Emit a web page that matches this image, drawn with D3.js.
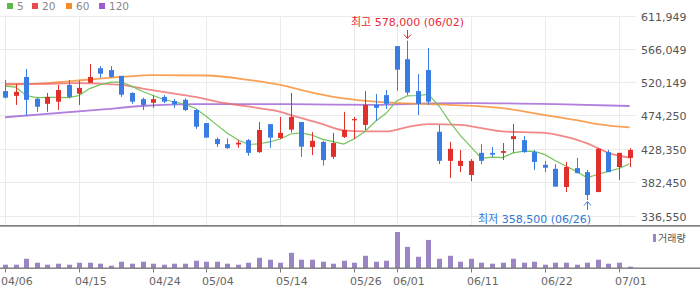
<!DOCTYPE html>
<html>
<head>
<meta charset="utf-8">
<script src="https://cdn.jsdelivr.net/npm/d3@7"></script>
<style>
body{margin:0;background:#fff}
svg{display:block;font-family:"DejaVu Sans","Noto Sans CJK KR",sans-serif}
</style>
</head>
<body>
<svg id="svg" width="700" height="289"></svg>
<script>
// daily candles, 60 trading days (prices in won)
var opens  = [508500,502000,528000,498000,491000,494000,517000,505000,520000,540000,537500,529500,506000,497500,492500,500500,495000,496500,482500,464500,442500,435500,435000,441000,424500,463000,444000,455500,466000,431500,438500,418000,445500,468500,462000,489500,503000,570500,552500,508500,537500,452500,412500,405500,393000,423500,423500,423500,442500,441000,424500,407000,401500,376500,402500,397000,369500,424500,404000,416500];
var highs  = [524000,518000,539000,499500,506000,517000,524000,523000,546000,543000,543000,529500,507000,499500,503000,503000,498000,498500,483500,464500,444500,443500,441000,442500,466000,463000,473000,506000,466000,452000,440000,451000,480000,473000,508500,504500,510000,570500,578000,532000,568000,462000,438500,427500,415000,435500,431500,437000,463500,446500,427500,412500,408000,411000,416500,400000,430000,427500,423500,430000];
var lows   = [498500,489500,474500,480000,480000,482500,498500,489500,520000,527000,527000,500500,491000,482500,485500,492000,485500,481000,456500,444500,431500,429000,430500,419500,423500,430500,442500,451500,418000,420500,406000,415000,444000,442500,455000,467500,484000,509000,503000,475500,489500,408000,389000,397000,384500,408000,418000,413500,423500,423500,400000,397000,377000,369500,395500,358500,369500,397000,386000,404000];
var closes = [499500,507500,496500,487000,500500,510000,500500,513000,528000,532500,528000,503500,494000,489500,497500,494000,490500,482500,459500,444500,435500,430000,437500,423500,455000,444500,451000,473000,432000,440000,413500,437000,455000,470000,489500,485500,491000,538000,506500,491000,494000,412500,429000,412500,412500,412500,421000,426000,446500,424500,411000,403000,377000,404000,395500,365500,429000,397000,423500,427500];
// volume, thousand shares
var volumes = [50,50,140,80,50,65,50,80,80,65,35,95,65,95,65,50,65,65,110,95,95,65,50,80,155,125,80,230,125,125,95,65,110,80,185,95,110,545,320,170,425,140,185,95,140,80,65,80,140,80,95,50,80,80,50,80,125,65,80,20];

// moving averages (thousand won)
var ma5 = [515.5,514,502.5,499.5,500,500,499.5,502.5,512,517.5,521,521,515,508,502.5,497,493.5,490.5,484.5,474,462,450.5,441.5,435,436,438.5,442.5,449.5,451,448,442,439,435.5,443,453,467,478,495,502,502.5,504,488,466.5,447.5,432,416,417.5,417,423.5,426,425.5,421,412.5,405,398,389,394,398,402,408.5];
var ma20 = [[0,518.5],[3,518.5],[7,519.5],[11,517],[13,512],[16,505],[18,500.5],[20,494],[24,485],[26,480],[27,475.5],[30,463],[32,454.5],[34,453],[36,453],[38,459],[40,463],[43,462],[45,457.5],[47,453],[51,451],[53,445.5],[55,436.5],[56,430],[57,423.5],[59,417]];
var ma60 = [[0,517],[4,519.5],[8,524.5],[11,528],[14,530.5],[19,530],[23,524],[26,517],[29,506.5],[32,498.5],[35,494],[38,491.5],[42,489.5],[47,485],[51,475.5],[54,468.5],[56,463],[59,458.5]];
var ma120 = [[0,472.5],[9,483],[13,488],[18,490.5],[27,490.5],[35,489.5],[40,491.5],[44,492],[52,490.5],[59,488]];

var yTicks = [611949,566049,520149,474250,428350,382450,336550];
var dateIdx = [0,7,14,19,26,33,37,44,51,58];
var dateLabels = ["04/06","04/15","04/24","05/04","05/14","05/26","06/01","06/11","06/22","07/01"];

var legendNames = ["5","20","60","120"];
var legendColors = ["#5cbb4a","#e84b4b","#f58b25","#9a5ccf"];

var hiIdx = 38, loIdx = 55;

var svg = d3.select("#svg");
var x = d3.scaleLinear().domain([0,60]).range([5,640.16]);
var y = d3.scaleLinear().domain([336550,611949]).range([216,16]);
var yv = d3.scaleLinear().domain([0,545]).range([268,232]);

var up = "#e12f2a", down = "#3a7de2";

// grid
svg.selectAll(".hg").data(yTicks).enter().append("line")
 .attr("x1",0).attr("x2",636)
 .attr("y1",d=>Math.floor(y(d))+0.5).attr("y2",d=>Math.floor(y(d))+0.5)
 .style("stroke","#ebebeb").style("stroke-width",1);
svg.selectAll(".vg").data(dateIdx).enter().append("line")
 .attr("x1",d=>Math.round(x(d))+0.5).attr("x2",d=>Math.round(x(d))+0.5)
 .attr("y1",16).attr("y2",225)
 .style("stroke","#ebebeb").style("stroke-width",1);

// y labels
svg.selectAll(".yl").data(yTicks).enter().append("text")
 .attr("x",641).attr("y",d=>Math.floor(y(d))+4.5)
 .text(d=>d3.format(",")(d))
 .style("font-size","11px").style("fill","#555");

// moving averages
var lineMA = d3.line().x(d=>x(d[0])).y(d=>y(d[1]*1000)).curve(d3.curveMonotoneX);
svg.append("path").attr("d",lineMA(ma120)).style("fill","none").style("stroke","#a368d8").style("stroke-width",1.8).style("opacity",0.85);
svg.append("path").attr("d",lineMA(ma60)).style("fill","none").style("stroke","#f7923a").style("stroke-width",1.8).style("opacity",0.85);
svg.append("path").attr("d",lineMA(ma20)).style("fill","none").style("stroke","#ef6a6a").style("stroke-width",1.8).style("opacity",0.8);
svg.append("path").attr("d",d3.line().x((d,i)=>x(i)).y(d=>y(d*1000))(ma5))
 .style("fill","none").style("stroke","#76c35a").style("stroke-width",1.2);

// candles
var idx = d3.range(opens.length);
svg.selectAll(".wick").data(idx).enter().append("line")
 .attr("x1",d=>Math.round(x(d))+0.5).attr("x2",d=>Math.round(x(d))+0.5)
 .attr("y1",d=>y(highs[d])).attr("y2",d=>y(lows[d]))
 .style("stroke",d=>closes[d]>=opens[d]?up:down).style("stroke-width",1);
svg.selectAll(".body").data(idx).enter().append("rect")
 .attr("x",d=>Math.round(x(d))-2).attr("width",5)
 .attr("y",d=>y(Math.max(opens[d],closes[d])))
 .attr("height",d=>Math.max(1.2,Math.abs(y(opens[d])-y(closes[d]))))
 .style("fill",d=>closes[d]>=opens[d]?up:down);

// high / low marks
var hx = Math.round(x(hiIdx))+0.5;
svg.append("text").attr("x",hx).attr("y",26).attr("text-anchor","middle")
 .text("최고 578,000 (06/02)").style("font-size","11px").style("fill","#ea2b3a");
svg.append("line").attr("x1",hx).attr("x2",hx).attr("y1",30).attr("y2",38).style("stroke","#e12f2a");
svg.append("path").attr("d","M"+(hx-3.5)+",34.5L"+hx+",38.5L"+(hx+3.5)+",34.5").style("fill","none").style("stroke","#e12f2a");
var lx = Math.round(x(loIdx))+0.5;
svg.append("line").attr("x1",lx).attr("x2",lx).attr("y1",202).attr("y2",210).style("stroke",down);
svg.append("path").attr("d","M"+(lx-3.5)+",205.5L"+lx+",201.5L"+(lx+3.5)+",205.5").style("fill","none").style("stroke",down);
svg.append("text").attr("x",591).attr("y",223).attr("text-anchor","end")
 .text("최저 358,500 (06/26)").style("font-size","11px").style("fill","#2f78d6");

// panel separator
svg.append("rect").attr("x",0).attr("y",225).attr("width",700).attr("height",1.7).style("fill","#808080");

// volume
svg.selectAll(".vol").data(idx).enter().append("rect")
 .attr("x",d=>Math.round(x(d))-2).attr("width",5)
 .attr("y",d=>yv(volumes[d])).attr("height",d=>268-yv(volumes[d]))
 .style("fill","#9b85c5");
svg.append("rect").attr("x",0).attr("y",267.5).attr("width",700).attr("height",1.4).style("fill","#7a7a7a");
svg.selectAll(".tk").data(dateIdx).enter().append("line")
 .attr("x1",d=>Math.round(x(d))+0.5).attr("x2",d=>Math.round(x(d))+0.5)
 .attr("y1",269).attr("y2",272.5).style("stroke","#777");
svg.selectAll(".dl").data(dateIdx).enter().append("text")
 .attr("x",(d,i)=>Math.max(1,Math.round(x(d))-4)).attr("y",285)
 .text((d,i)=>dateLabels[i]).style("font-size","11px").style("fill","#666");

svg.append("rect").attr("x",653).attr("y",234).attr("width",3).attr("height",8).style("fill","#9b85c5");
svg.append("text").attr("x",658).attr("y",242).text("거래량").style("font-size","10px").style("fill","#555");

// legend
var lg = svg.selectAll(".lg").data(legendNames).enter().append("g")
 .attr("transform",(d,i)=>"translate("+[7,32,66,99][i]+",0)");
lg.append("rect").attr("x",0).attr("y",3).attr("width",6).attr("height",6).style("fill",(d,i)=>legendColors[i]);
lg.append("text").attr("x",10).attr("y",10).text(d=>d).style("font-size","10.5px").style("fill","#888");
</script>
</body>
</html>
